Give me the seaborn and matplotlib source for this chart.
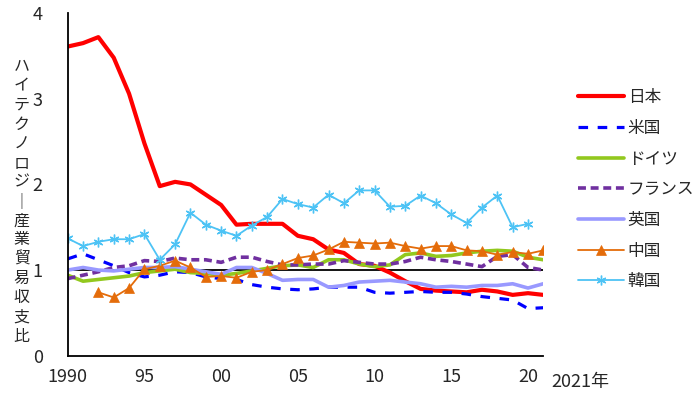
import numpy as np
import pandas as pd
import seaborn as sns
import matplotlib.pyplot as plt

# 年次データ (1990-2021)
years = list(range(1990, 2022))

japan = [3.61, 3.65, 3.72, 3.48, 3.06, 2.48, 1.98, 2.03, 2.00, 1.88,
         1.76, 1.53, 1.54, 1.54, 1.54, 1.40, 1.36, 1.24, 1.20, 1.07,
         1.05, 0.97, 0.87, 0.78, 0.76, 0.75, 0.74, 0.77, 0.75, 0.71,
         0.73, 0.71]
us = [1.13, 1.19, 1.12, 1.05, 0.97, 0.92, 0.94, 0.98, 0.97, 0.92,
      0.90, 0.89, 0.83, 0.80, 0.78, 0.77, 0.78, 0.80, 0.80, 0.80,
      0.74, 0.73, 0.74, 0.75, 0.74, 0.74, 0.72, 0.69, 0.67, 0.65,
      0.55, 0.56]
germany = [0.94, 0.87, 0.89, 0.91, 0.93, 0.97, 0.99, 1.01, 0.97, 0.96,
           0.94, 0.96, 0.99, 1.02, 1.05, 1.06, 1.03, 1.12, 1.12, 1.07,
           1.04, 1.06, 1.18, 1.20, 1.16, 1.17, 1.20, 1.22, 1.23, 1.22,
           1.15, 1.12]
france = [0.90, 0.94, 0.98, 1.03, 1.05, 1.11, 1.10, 1.14, 1.12, 1.12,
          1.09, 1.15, 1.15, 1.10, 1.06, 1.06, 1.07, 1.07, 1.11, 1.09,
          1.07, 1.07, 1.10, 1.15, 1.12, 1.10, 1.07, 1.04, 1.16, 1.18,
          1.03, 1.00]
uk = [1.00, 1.03, 1.00, 0.99, 1.01, 1.03, 1.03, 1.04, 1.01, 0.98,
      0.95, 1.03, 1.03, 0.96, 0.88, 0.89, 0.89, 0.80, 0.82, 0.86,
      0.87, 0.88, 0.86, 0.84, 0.80, 0.81, 0.80, 0.82, 0.82, 0.84,
      0.79, 0.84]
china = [None, None, 0.74, 0.68, 0.79, 1.01, 1.05, 1.11, 1.03, 0.92,
         0.93, 0.91, 0.98, 1.00, 1.07, 1.14, 1.17, 1.24, 1.33, 1.32,
         1.31, 1.32, 1.28, 1.25, 1.28, 1.28, 1.23, 1.22, 1.18, 1.21,
         1.19, 1.23]
korea = [1.37, 1.28, 1.33, 1.36, 1.36, 1.42, 1.12, 1.30, 1.67, 1.53,
         1.46, 1.40, 1.52, 1.62, 1.83, 1.77, 1.73, 1.88, 1.78, 1.93,
         1.93, 1.74, 1.75, 1.87, 1.78, 1.65, 1.55, 1.73, 1.87, 1.50,
         1.54, None]

x_labels = ['1990', '95', '00', '05', '10', '15', '20']
ylabel_text = 'ハイテクノロジー産業貿易収支比'

df = pd.DataFrame({'year': years, '日本': japan, '米国': us, 'ドイツ': germany,
                   'フランス': france, '英国': uk, '中国': china, '韓国': korea})
df = df.astype(float)

styles = {
    '日本': dict(color='#FF0000', linewidth=3.0),
    '米国': dict(color='#0000FF', linewidth=2.3, dashes=(3, 3)),
    'ドイツ': dict(color='#92C81E', linewidth=2.6),
    'フランス': dict(color='#7030A0', linewidth=2.6, dashes=(2.2, 1.3)),
    '英国': dict(color='#9999FF', linewidth=2.6),
    '中国': dict(color='#E46C0A', linewidth=1.3, marker='^', markersize=7,
               markeredgecolor='#E46C0A', markeredgewidth=0.5),
    '韓国': dict(color='#4DC3F5', linewidth=1.3, marker=(6, 2, 0), markersize=7,
               markeredgecolor='#4DC3F5', markeredgewidth=1.0),
}

sns.set_style('white')
plt.rcParams['font.family'] = ['Noto Sans CJK JP', 'DejaVu Sans']

fig = plt.figure(figsize=(7, 3.96), dpi=100)
ax = fig.add_axes([0.0967, 0.1018, 0.6795, 0.865])

for name, st in styles.items():
    st = dict(st)
    dashes = st.pop('dashes', None)
    sns.lineplot(data=df, x='year', y=name, ax=ax, label=name, **st)
    if dashes is not None:
        ax.lines[-1].set_dashes(dashes)

ax.axhline(1, color='black', linewidth=1.3, zorder=1)

ax.set_xlim(1990, 2021)
ax.set_ylim(0, 4)
ax.set_xticks(years)
ax.set_xticklabels([x_labels[(y - 1990) // 5] if (y - 1990) % 5 == 0 else '' for y in years])
ax.set_yticks([0, 1, 2, 3, 4])
ax.tick_params(axis='x', direction='in', length=5, width=1, pad=9, labelsize=13, color='black')
ax.tick_params(axis='y', direction='in', length=5, width=1, pad=18, labelsize=13, color='black')
ax.set_xlabel('')
ax.set_ylabel('')
for side in ['top', 'right']:
    ax.spines[side].set_visible(False)
for side in ['left', 'bottom']:
    ax.spines[side].set_color('black')
    ax.spines[side].set_linewidth(1.3)

# 縦書きの軸ラベル
fig.text(0.031, 0.491, '\n'.join(ch if ch != 'ー' else '｜' for ch in ylabel_text),
         ha='center', va='center', fontsize=11.5, linespacing=1.17)
fig.text(0.829, 0.035, '2021年', ha='center', va='center', fontsize=13)

handles, labels = ax.get_legend_handles_labels()
ax.legend(handles, labels, loc='center left', bbox_to_anchor=(0.804, 0.521),
          bbox_transform=fig.transFigure, frameon=False, fontsize=12,
          handlelength=2.8, handletextpad=0.2, labelspacing=0.82)

fig.savefig('out.png', dpi=100)
